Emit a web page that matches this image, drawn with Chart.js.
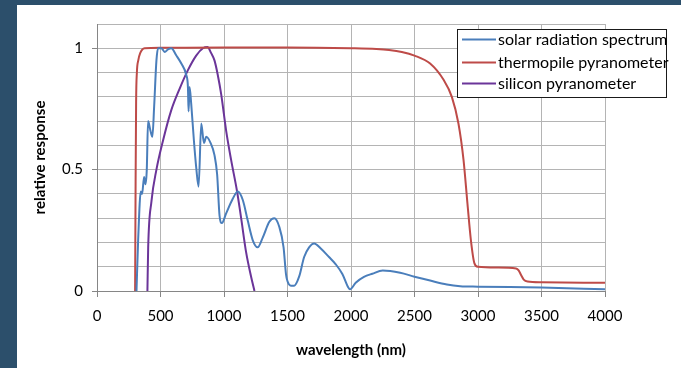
<!DOCTYPE html>
<html>
<head>
<meta charset="utf-8">
<script src="https://cdn.jsdelivr.net/npm/chart.js@4"></script>
<style>
  html, body { margin: 0; padding: 0; width: 681px; height: 368px; overflow: hidden; background: #2c4f6b; }
  #frame { position: absolute; left: 17px; top: 5px; width: 664px; height: 363px; background: #ffffff; }
  canvas { display: block; }
</style>
</head>
<body>
<div id="frame"><canvas id="chart" width="664" height="363"></canvas></div>
<script>
// Series labels
const seriesNames = ['solar radiation spectrum', 'thermopile pyranometer', 'silicon pyranometer'];

// Solar radiation spectrum (wavelength in nm, relative response)
const solarWavelengths = [311, 324, 345, 355, 371, 382, 392, 402, 421, 436, 450, 468, 481, 507, 533, 559, 585, 625, 664, 703, 716, 721, 729, 742, 763, 781, 800, 821, 842, 860, 894, 925, 946, 965, 983, 1017, 1069, 1108, 1148, 1187, 1226, 1265, 1305, 1357, 1396, 1435, 1469, 1488, 1500, 1527, 1553, 1592, 1631, 1670, 1710, 1762, 1827, 1880, 1932, 1979, 1992, 2037, 2102, 2168, 2250, 2387, 2500, 2623, 2755, 2860, 3000, 3500, 4000];
const solarResponse = [0, 0.21, 0.41, 0.40, 0.47, 0.44, 0.50, 0.70, 0.66, 0.635, 0.76, 0.95, 1.0, 1.0, 0.985, 0.995, 1.0, 0.97, 0.937, 0.89, 0.84, 0.74, 0.84, 0.77, 0.62, 0.51, 0.43, 0.69, 0.61, 0.635, 0.61, 0.56, 0.48, 0.31, 0.28, 0.32, 0.38, 0.41, 0.375, 0.29, 0.21, 0.18, 0.22, 0.285, 0.30, 0.265, 0.18, 0.07, 0.04, 0.022, 0.022, 0.06, 0.14, 0.18, 0.196, 0.175, 0.14, 0.11, 0.07, 0.014, 0.007, 0.034, 0.058, 0.071, 0.084, 0.075, 0.059, 0.043, 0.027, 0.02, 0.018, 0.014, 0.007];

// Thermopile pyranometer
const thermopileWavelengths = [300, 304, 308, 314, 325, 340, 375, 500, 1000, 1500, 2000, 2200, 2300, 2400, 2500, 2623, 2729, 2794, 2846, 2886, 2917, 2944, 2972, 3000, 3150, 3300, 3320, 3340, 3360, 3390, 3500, 4000];
const thermopileResponse = [0, 0.45, 0.78, 0.9, 0.95, 0.98, 1.0, 1.002, 1.003, 1.003, 1.0, 0.997, 0.993, 0.985, 0.97, 0.937, 0.87, 0.80, 0.69, 0.54, 0.36, 0.21, 0.114, 0.10, 0.097, 0.093, 0.085, 0.065, 0.047, 0.039, 0.036, 0.034];

// Silicon pyranometer
const siliconWavelengths = [397, 403, 429, 468, 520, 585, 651, 716, 781, 834, 870, 899, 925, 951, 978, 1017, 1056, 1103, 1135, 1174, 1213, 1240];
const siliconResponse = [0, 0.18, 0.37, 0.50, 0.62, 0.745, 0.834, 0.91, 0.97, 1.0, 1.005, 0.98, 0.95, 0.89, 0.81, 0.66, 0.54, 0.41, 0.30, 0.16, 0.06, 0];

// Axis ticks
const xTicks = [0, 500, 1000, 1500, 2000, 2500, 3000, 3500, 4000];
const yLabeledTicks = [0, 0.5, 1];

const seriesColors = ['#4a7ebb', '#be4b48', '#6b3599'];

function toPoints(xs, ys) {
  return xs.map((x, i) => ({ x: x, y: ys[i] }));
}

function isLabeled(v) {
  return yLabeledTicks.some(t => Math.abs(t - v) < 1e-6);
}

const FONT = 'Lato, "Open Sans", sans-serif';

// Boxed legend drawn in the upper right corner
const boxLegend = {
  id: 'boxLegend',
  afterDraw(chart) {
    const ctx = chart.ctx;
    const x0 = 440, y0 = 24, w = 209, h = 68;
    const rows = [10.5, 33.5, 54.5];
    ctx.save();
    ctx.fillStyle = '#ffffff';
    ctx.fillRect(x0, y0, w, h);
    ctx.strokeStyle = '#1a1a1a';
    ctx.lineWidth = 1;
    ctx.strokeRect(x0 + 0.5, y0 + 0.5, w, h);
    ctx.font = '16px ' + FONT;
    ctx.textBaseline = 'middle';
    ctx.textAlign = 'left';
    chart.data.datasets.forEach((ds, i) => {
      const y = y0 + rows[i];
      ctx.strokeStyle = ds.borderColor;
      ctx.lineWidth = 2;
      ctx.beginPath();
      ctx.moveTo(x0 + 5, y);
      ctx.lineTo(x0 + 39, y);
      ctx.stroke();
      ctx.fillStyle = '#000000';
      ctx.fillText(ds.label, x0 + 41, y);
    });
    ctx.restore();
  }
};

new Chart(document.getElementById('chart'), {
  type: 'line',
  data: {
    datasets: [
      { label: seriesNames[0], data: toPoints(solarWavelengths, solarResponse), borderColor: seriesColors[0] },
      { label: seriesNames[1], data: toPoints(thermopileWavelengths, thermopileResponse), borderColor: seriesColors[1] },
      { label: seriesNames[2], data: toPoints(siliconWavelengths, siliconResponse), borderColor: seriesColors[2] }
    ]
  },
  options: {
    responsive: false,
    animation: false,
    parsing: false,
    layout: { padding: { top: 19, right: 76, left: 0, bottom: 0 } },
    plugins: { legend: { display: false }, tooltip: { enabled: false } },
    elements: {
      point: { radius: 0 },
      line: { borderWidth: 2, cubicInterpolationMode: 'monotone', fill: false }
    },
    scales: {
      x: {
        type: 'linear',
        min: 0,
        max: 4000,
        afterBuildTicks(scale) { scale.ticks = xTicks.map(v => ({ value: v })); },
        ticks: {
          color: '#000',
          font: { family: FONT, size: 15 },
          padding: 10,
          maxRotation: 0,
          autoSkip: false,
          callback(v) { return String(v); }
        },
        grid: { color: '#b4b4b4', tickColor: '#868686', tickLength: 6 },
        border: { color: '#868686' },
        title: { display: true, text: 'wavelength (nm)', color: '#000', font: { family: FONT, size: 15, weight: 'bold' }, padding: { top: 0, bottom: 9 } },
        afterFit(scale) { scale.height = 77; }
      },
      y: {
        type: 'linear',
        min: 0,
        max: 1.1,
        ticks: {
          stepSize: 0.1,
          color: '#000',
          font: { family: FONT, size: 15 },
          padding: 9,
          autoSkip: false,
          callback(v) { return isLabeled(v) ? String(Math.round(v * 10) / 10) : ''; }
        },
        grid: {
          color: '#b4b4b4',
          tickLength: 5,
          tickColor(ctx) { return ctx.tick && isLabeled(ctx.tick.value) ? '#868686' : 'rgba(0,0,0,0)'; }
        },
        border: { color: '#868686' },
        title: { display: true, text: 'relative response', color: '#000', font: { family: FONT, size: 15, weight: 'bold' }, padding: { top: 14, bottom: 0 } },
        afterFit(scale) { scale.width = 80; }
      }
    }
  },
  plugins: [boxLegend]
});
</script>
</body>
</html>
